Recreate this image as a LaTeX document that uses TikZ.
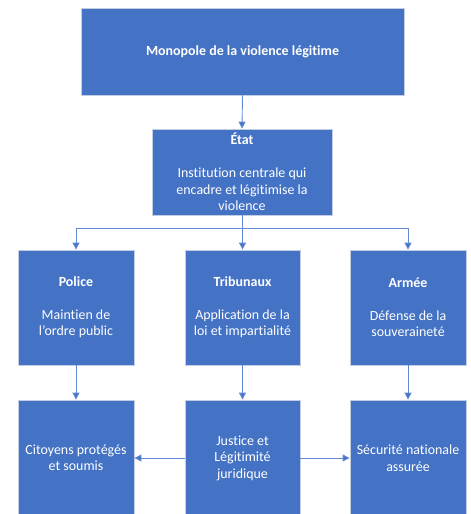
\documentclass[tikz,border=0pt]{standalone}
\usepackage{fontspec}
\setmainfont[Ligatures=NoCommon]{Carlito}
\usepackage{tikz}
\usetikzlibrary{arrows.meta}
\definecolor{boxblue}{RGB}{68,114,196}
\definecolor{boxedge}{RGB}{196,206,226}
\definecolor{linkblue}{RGB}{98,138,210}

\begin{document}
\begin{tikzpicture}[x=1bp, y=-1bp,
		box/.style={rectangle, fill=boxblue, draw=boxedge, line width=0.8bp, text=white, align=center, inner sep=0pt, font=\fontsize{14}{16.5}\selectfont},
		link/.style={draw=linkblue, line width=0.9bp, -{Stealth[length=7bp, width=7bp, inset=0pt, fill=boxblue]}}]
		%%%%% START %%%%%
		
		\useasboundingbox[fill=white] (0, 0) rectangle (471, 514);
		
		\node[box, minimum width=323bp, minimum height=87bp] (monopole) at (242.5, 51.5) {\textbf{Monopole de la violence légitime}};
		\node[box, minimum width=180bp, minimum height=86bp] (etat) at (242, 172) {\textbf{État}\\[16.5bp]Institution centrale qui\\encadre et légitimise la\\violence};
		
		\node[box, minimum width=116bp, minimum height=115bp] (police) at (76, 307.5) {\textbf{Police}\\[16.5bp]Maintien de\\l’ordre public};
		\node[box, minimum width=115bp, minimum height=115bp] (tribunaux) at (242.5, 307.5) {\textbf{Tribunaux}\\[16.5bp]Application de la\\loi et impartialité};
		\node[box, minimum width=116bp, minimum height=115bp] (armee) at (408, 307.5) {\textbf{Armée}\\[16.5bp]Défense de la\\souveraineté};
		
		\node[box, minimum width=116bp, minimum height=116bp] (citoyens) at (76, 458) {Citoyens protégés\\et soumis};
		\node[box, minimum width=115bp, minimum height=116bp] (justice) at (242.5, 458) {Justice et\\Légitimité\\juridique};
		\node[box, minimum width=116bp, minimum height=116bp] (securite) at (408, 458) {Sécurité nationale\\assurée};
		
		\coordinate (split) at (242, 228);
		
		\draw[link] (monopole.south) -- (etat.north);
		\draw[link] (etat.south) -- (split) -| (police.north);
		\draw[link] (etat.south) -- (split) -| (tribunaux.north);
		\draw[link] (etat.south) -- (split) -| (armee.north);
		
		\draw[link] (police.south) -- (citoyens.north);
		\draw[link] (tribunaux.south) -- (justice.north);
		\draw[link] (armee.south) -- (securite.north);
		
		\draw[link] (justice.west) -- (citoyens.east);
		\draw[link] (justice.east) -- (securite.west);
		
		%%%%% END %%%%%
	\end{tikzpicture}
\end{document}
